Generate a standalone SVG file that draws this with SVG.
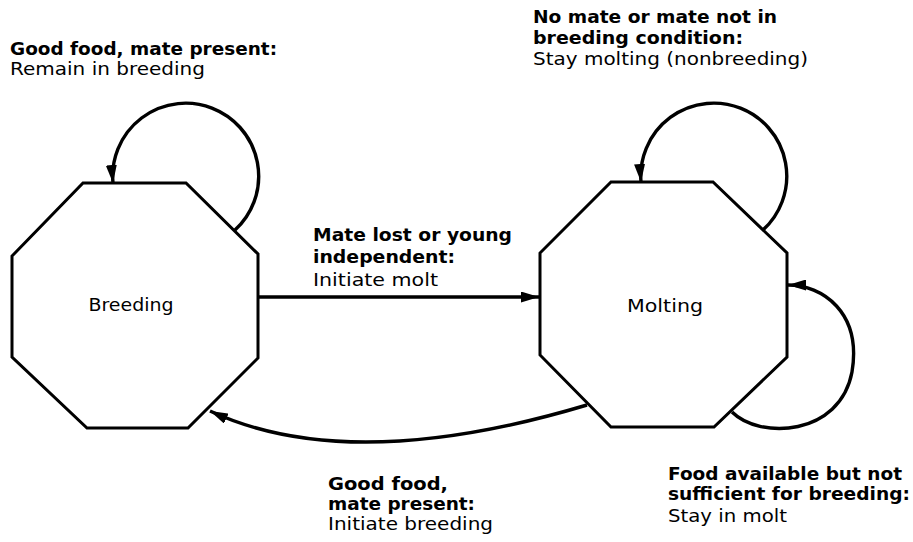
<svg xmlns="http://www.w3.org/2000/svg" width="913" height="542" viewBox="0 0 913 542">
<style>
.bg{fill:#ffffff}
.state{fill:#ffffff;stroke:#000;stroke-width:3;stroke-linejoin:miter}
.edge{fill:none;stroke:#000;stroke-width:3.4}
.lbl{font-family:"DejaVu Sans","Liberation Sans",sans-serif;font-size:17px;fill:#000}
.b{font-weight:bold}
.name{font-family:"DejaVu Sans","Liberation Sans",sans-serif;font-size:18px;fill:#000;text-anchor:middle}
</style>
<defs>
<marker id="ah" markerUnits="userSpaceOnUse" markerWidth="18" markerHeight="11" refX="18" refY="5.5" orient="auto">
<path d="M0,0 L18,5.5 L0,11 z" fill="#000"/>
</marker>
</defs>
<rect class="bg" x="0" y="0" width="913" height="542"/>
<g id="connectors">
<path class="edge" d="M235,230 A73,73 0 1 0 113,183" marker-end="url(#ah)"/>
<path class="edge" d="M763,230 A73,73 0 1 0 641,182" marker-end="url(#ah)"/>
<path class="edge" d="M732,412 C760,440 840,436 852,372 C862,312 822,285 788,285" marker-end="url(#ah)"/>
<path class="edge" d="M258,297 L539,297" marker-end="url(#ah)"/>
<path class="edge" d="M587,405 Q350,476 210,411" marker-end="url(#ah)"/>
</g>
<g id="breeding">
<polygon class="state" points="83,183 186,183 258,254 258,358 188,428 87,428 12,357 12,256"/>
<text class="name" x="131" y="311" textLength="85" lengthAdjust="spacingAndGlyphs">Breeding</text>
</g>
<g id="molting">
<polygon class="state" points="611,182 713,182 787,253 787,357 714,427 611,427 540,355 540,253"/>
<text class="name" x="665" y="312" textLength="76" lengthAdjust="spacingAndGlyphs">Molting</text>
</g>
<g id="labels">
<text class="lbl b" x="10" y="55" textLength="267" lengthAdjust="spacingAndGlyphs">Good food, mate present:</text>
<text class="lbl" x="10" y="75" textLength="195" lengthAdjust="spacingAndGlyphs">Remain in breeding</text>
<text class="lbl b" x="533" y="23" textLength="244" lengthAdjust="spacingAndGlyphs">No mate or mate not in</text>
<text class="lbl b" x="533" y="44" textLength="210" lengthAdjust="spacingAndGlyphs">breeding condition:</text>
<text class="lbl" x="533" y="65" textLength="275" lengthAdjust="spacingAndGlyphs">Stay molting (nonbreeding)</text>
<text class="lbl b" x="313" y="241" textLength="199" lengthAdjust="spacingAndGlyphs">Mate lost or young</text>
<text class="lbl b" x="313" y="263" textLength="142" lengthAdjust="spacingAndGlyphs">independent:</text>
<text class="lbl" x="313" y="286" textLength="125" lengthAdjust="spacingAndGlyphs">Initiate molt</text>
<text class="lbl b" x="328" y="490" textLength="120" lengthAdjust="spacingAndGlyphs">Good food,</text>
<text class="lbl b" x="328" y="510" textLength="147" lengthAdjust="spacingAndGlyphs">mate present:</text>
<text class="lbl" x="328" y="530" textLength="165" lengthAdjust="spacingAndGlyphs">Initiate breeding</text>
<text class="lbl b" x="668" y="480" textLength="234" lengthAdjust="spacingAndGlyphs">Food available but not</text>
<text class="lbl b" x="668" y="500" textLength="242" lengthAdjust="spacingAndGlyphs">sufficient for breeding:</text>
<text class="lbl" x="668" y="522" textLength="119" lengthAdjust="spacingAndGlyphs">Stay in molt</text>
</g>
</svg>
